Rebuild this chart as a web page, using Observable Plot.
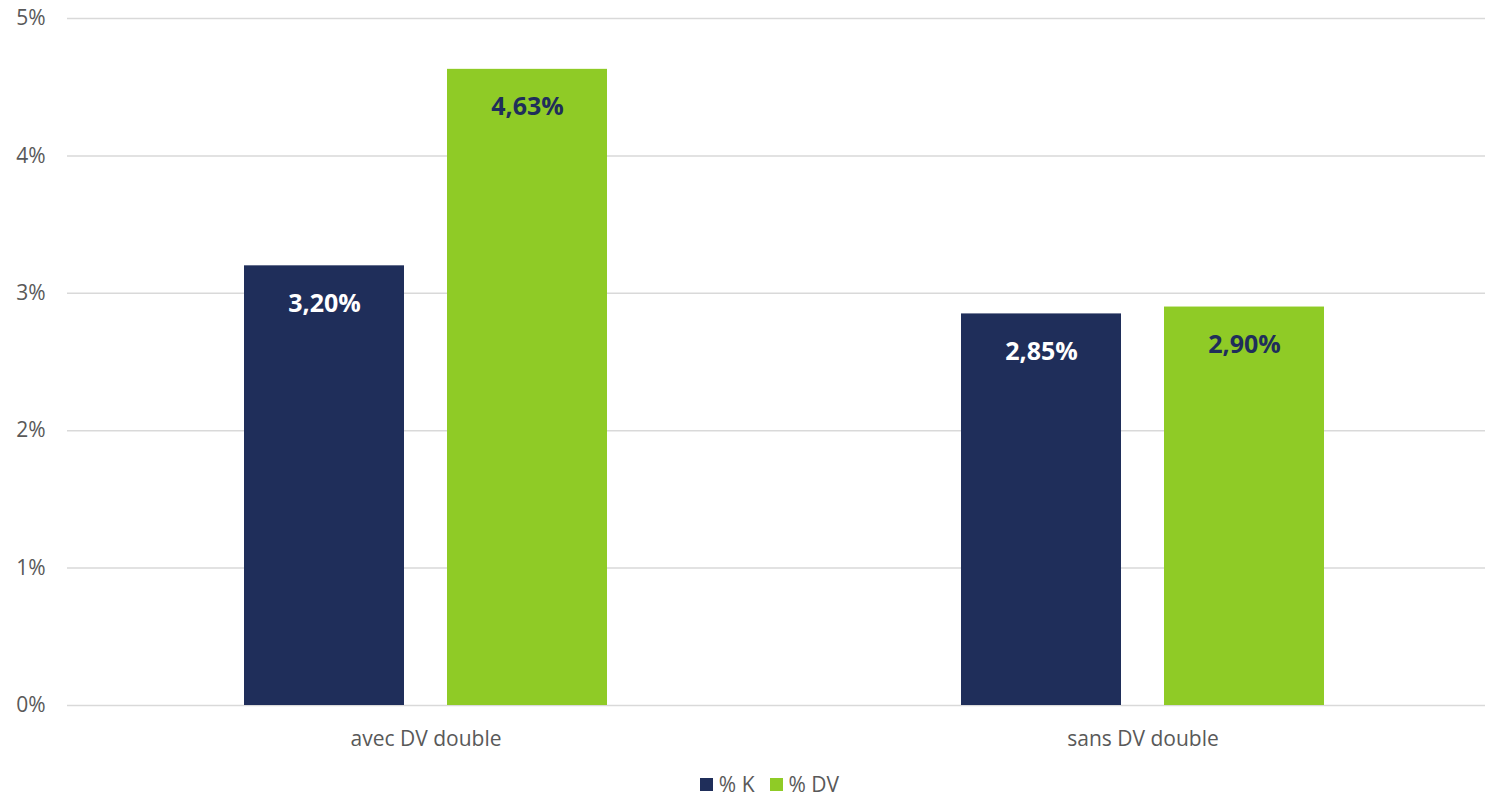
<!DOCTYPE html>
<html>
<head>
<meta charset="utf-8">
<script src="https://cdn.jsdelivr.net/npm/d3@7"></script>
<script src="https://cdn.jsdelivr.net/npm/@observablehq/plot@0.6"></script>
<style>
  html, body { margin: 0; padding: 0; background: #fff; overflow: hidden; width: 1485px; height: 798px; }
  #chart svg { display: block; max-width: none !important; }
  #legend { display: flex; justify-content: center; align-items: center; height: 28px; font-family: "Open Sans", sans-serif; font-size: 21px; color: #595959; gap: 15px; padding-left: 54px; padding-top: 10px; box-sizing: content-box; }
  #legend .item { display: flex; align-items: center; gap: 6px; }
  #legend .sw { width: 13px; height: 13px; display: inline-block; }
</style>
</head>
<body>
<div id="chart"></div>
<div id="legend"></div>
<script>
const categories = ["avec DV double", "sans DV double"];
const series = ["% K", "% DV"];
const valuesK = [3.20, 2.85];
const valuesDV = [4.63, 2.90];
const colors = ["#1F2E5A", "#8FCB26"];
const labelColors = ["#ffffff", "#1F2E5A"];
const yTicks = [0, 1, 2, 3, 4, 5];

const data = [];
categories.forEach((c, i) => {
  data.push({cat: c, series: series[0], value: valuesK[i]});
  data.push({cat: c, series: series[1], value: valuesDV[i]});
});

const fmt = v => v.toFixed(2).replace(".", ",") + "%";

const chart = Plot.plot({
  width: 1501,
  height: 760,
  marginLeft: 66,
  marginRight: 0,
  marginTop: 18,
  marginBottom: 55,
  style: { fontFamily: "'Open Sans', sans-serif", color: "#595959", overflow: "visible", maxWidth: "none" },
  fx: { domain: categories, paddingInner: 0, paddingOuter: 0, label: null },
  x: { domain: series, paddingInner: 0.2108, paddingOuter: 0.864, axis: null },
  y: { domain: [0, 5], label: null },
  color: { domain: series, range: colors },
  marks: [
    Plot.ruleY(yTicks, { stroke: "#d9d9d9", strokeWidth: 1.5 }),
    Plot.axisY(yTicks, { tickFormat: d => d + "%", tickSize: 0, tickPadding: 22, fontSize: 21, fill: "#595959", label: null }),
    Plot.axisFx({ anchor: "bottom", tickSize: 0, tickPadding: 26, fontSize: 21, fill: "#595959", label: null }),
    Plot.barY(data, { fx: "cat", x: "series", y: "value", fill: "series" }),
    Plot.text(data, {
      fx: "cat", x: "series", y: "value", text: d => fmt(d.value),
      dy: 38, fill: d => labelColors[series.indexOf(d.series)],
      fontWeight: "bold", fontSize: 25
    })
  ]
});
document.getElementById("chart").appendChild(chart);

const legend = document.getElementById("legend");
series.forEach((s, i) => {
  const item = document.createElement("span");
  item.className = "item";
  const sw = document.createElement("span");
  sw.className = "sw";
  sw.style.background = colors[i];
  const t = document.createElement("span");
  t.textContent = s;
  item.appendChild(sw);
  item.appendChild(t);
  legend.appendChild(item);
});
</script>
</body>
</html>
